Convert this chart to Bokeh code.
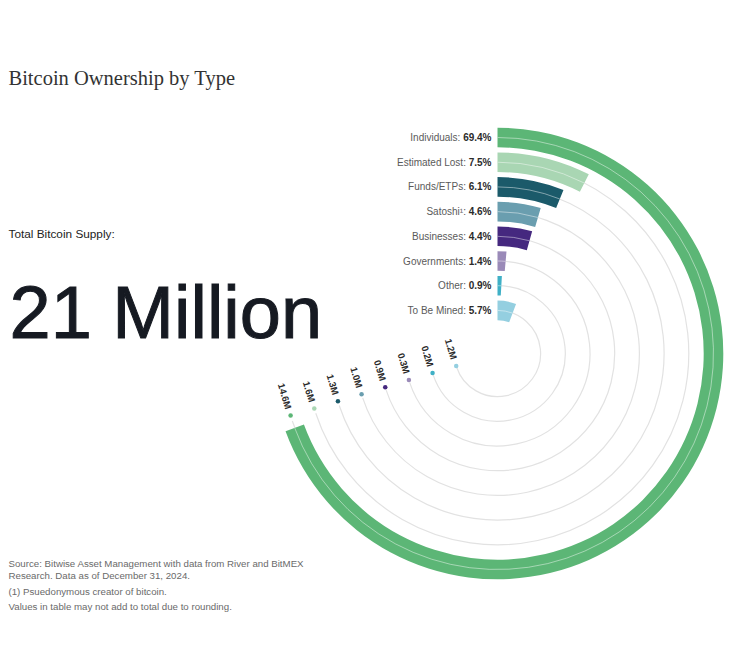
import math
from bokeh.plotting import figure
from bokeh.models import Range1d, ColumnDataSource
from bokeh.core.properties import value
from bokeh.embed import file_html
from bokeh.resources import INLINE

# ---------------- data ----------------
categories = ["Individuals", "Estimated Lost", "Funds/ETPs", "Satoshi\u00b9",
              "Businesses", "Governments", "Other", "To Be Mined"]
shares = [69.4, 7.5, 6.1, 4.6, 4.4, 1.4, 0.9, 5.7]
amounts = ["14.6M", "1.6M", "1.3M", "1.0M", "0.9M", "0.3M", "0.2M", "1.2M"]
colors = ["#5cb676", "#a9d6b3", "#1b5a6a", "#6a9eaf",
          "#45287f", "#9a8ab8", "#3fb0c6", "#94cfe0"]

title = "Bitcoin Ownership by Type"
supply_label = "Total Bitcoin Supply:"
supply_value = "21 Million"
footnotes = ["Source: Bitwise Asset Management with data from River and BitMEX",
             "Research. Data as of December 31, 2024.",
             "(1) Psuedonymous creator of bitcoin.",
             "Values in table may not add to total due to rounding."]

# ---------------- layout ----------------
W, H = 734, 650
def sy(y_screen):        # image y (down) -> data y (up)
    return H - y_screen

cx, cy = 497, sy(353)
r_outer_center = 216
step = 24.7
half = 9.8
track_end_deg = 253.3

p = figure(width=W, height=H, output_backend="svg", toolbar_location=None,
           x_range=Range1d(0, W), y_range=Range1d(0, H),
           x_axis_location=None, y_axis_location=None, min_border=0,
           background_fill_color="white", border_fill_color="white")
p.grid.visible = False
p.outline_line_color = None

n = len(categories)
radii = [r_outer_center - step * i for i in range(n)]
track_end = math.pi / 2 - math.radians(track_end_deg - 1.5)

# tracks (under bars)
p.arc(x=[cx] * n, y=[cy] * n, radius=radii,
      start_angle=[math.pi / 2] * n, end_angle=[track_end] * n,
      direction="clock", line_color="#e2e2e2", line_width=1.2)

# bars
bars = ColumnDataSource(dict(
    x=[cx] * n, y=[cy] * n, r=radii,
    inner=[r - half for r in radii], outer=[r + half for r in radii],
    start=[math.pi / 2] * n,
    end=[math.pi / 2 - s / 100 * 2 * math.pi for s in shares],
    color=colors))
p.annular_wedge(x="x", y="y", inner_radius="inner", outer_radius="outer",
                start_angle="start", end_angle="end", direction="clock",
                fill_color="color", line_color=None, source=bars)

# subtle track line visible through the bars
p.arc(x="x", y="y", radius="r", start_angle="start", end_angle="end",
      direction="clock", line_color="white", line_width=1, line_alpha=0.45,
      source=bars)

# dots + rotated amount labels
phi = math.pi / 2 - math.radians(track_end_deg)
tx, ty = math.cos(phi + math.pi / 2), math.sin(phi + math.pi / 2)
dx = [cx + r * math.cos(phi) for r in radii]
dy = [cy + r * math.sin(phi) for r in radii]
p.scatter(x=dx, y=dy, size=4.5, marker="circle", fill_color=colors, line_color=None)
p.text(x=[x - 7 * tx for x in dx], y=[y - 7 * ty for y in dy], text=amounts,
       angle=phi + math.pi / 2, text_align="right", text_baseline="middle",
       text_font=value("Liberation Sans"), text_font_style="bold",
       text_font_size="9.5px", text_color="#2b2b2b")

# category labels
ARIAL_B = {c: 0.556 for c in "0123456789"}
ARIAL_B.update({".": 0.278, "%": 0.889})
fs = 10
pct_txt = [f"{s}%" for s in shares]
pct_w = [sum(ARIAL_B.get(ch, 0.6) for ch in t) * fs for t in pct_txt]
label_x = 491
label_y = [cy + r for r in radii]
p.text(x=[label_x] * n, y=label_y, text=pct_txt, text_align="right",
       text_baseline="middle", text_font=value("Liberation Sans"),
       text_font_style="bold", text_font_size=f"{fs}px", text_color="#2b2b2b")
p.text(x=[label_x - w - 2.8 for w in pct_w], y=label_y,
       text=[c + ":" for c in categories], text_align="right",
       text_baseline="middle", text_font=value("Liberation Sans"),
       text_font_size=f"{fs}px", text_color="#5a5a5a")

# title and big number
p.text(x=[8], y=[sy(77)], text=[title], text_font=value("Liberation Serif"),
       text_font_size="20.5px", text_color="#333333", text_baseline="alphabetic")
p.text(x=[8], y=[sy(233)], text=[supply_label], text_font=value("Liberation Sans"),
       text_font_size="11.8px", text_color="#222222", text_baseline="alphabetic")
p.text(x=[9], y=[sy(312)], text=[supply_value], text_font=value("Liberation Sans"),
       text_font_size="74px", text_color="#161a22", text_baseline="alphabetic",
       text_outline_color="#161a22")

# footnotes
foot_y = [563, 575, 591, 606]
p.text(x=[8] * 4, y=[sy(v) for v in foot_y], text=footnotes,
       text_font=value("Liberation Sans"), text_font_size="9.7px",
       text_color="#6a6a6a", text_baseline="middle")

open("out.html", "w").write(file_html(p, INLINE))
